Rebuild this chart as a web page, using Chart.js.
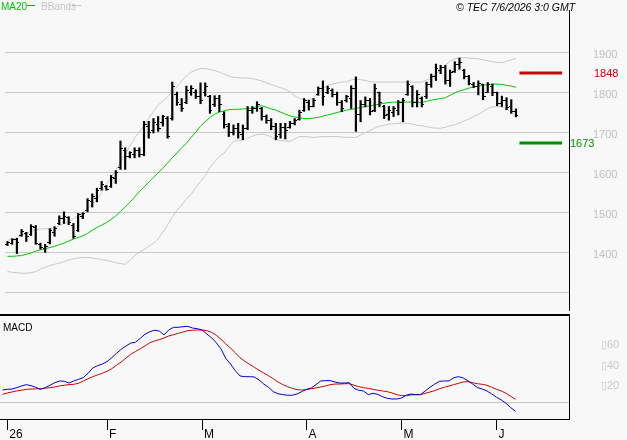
<!DOCTYPE html>
<html>
<head>
<meta charset="utf-8">
<script src="https://cdn.jsdelivr.net/npm/chart.js@4.4.1/dist/chart.umd.min.js"></script>
<style>
  body { margin: 0; background: #f8f8f8; width: 627px; height: 440px; overflow: hidden; position: relative;
         font-family: "Liberation Sans", Arial, sans-serif; }
  canvas { position: absolute; left: 0; }
  #price { top: 0; }
  #macd { top: 313px; }
  .txt { position: absolute; font-size: 10px; line-height: 10px; white-space: nowrap; }
  .key { position: absolute; height: 1px; }
</style>
</head>
<body>
<canvas id="price" width="627" height="315"></canvas>
<canvas id="macd" width="627" height="127"></canvas>

<div class="txt" style="left:1px;top:2px;color:#00c000">MA20</div>
<div class="key" style="left:27px;top:5px;width:8px;background:#00c000"></div>
<div class="txt" style="left:41px;top:2px;color:#c4c4c4">BBands</div>
<div class="key" style="left:72px;top:5px;width:9px;background:#c4c4c4"></div>
<div class="txt" style="left:456px;top:2px;color:#000;font-style:italic;font-size:10.5px">© TEC 7/6/2026 3:0 GMT</div>
<div class="txt" style="left:3px;top:323px;color:#000">MACD</div>

<script>
// daily bars, 31 Dec 2025 .. 5 Jun 2026
var opens = [
  1420,1423,1432,1442,1447,1445,1463,1420,1410,1425,
  1450,1472,1485,1487,1468,1455,1490,1505,1528,1535,
  1560,1565,1565,1585,1612,1655,1640,1645,1655,1645,
  1715,1705,1720,1725,1735,1735,1795,1770,1775,1800,
  1800,1790,1800,1790,1770,1785,1745,1715,1700,1710,
  1695,1710,1755,1760,1760,1740,1730,1715,1695,1712,
  1712,1722,1732,1755,1775,1765,1795,1810,1800,1805,
  1795,1775,1780,1785,1810,1745,1770,1778,1755,1800,
  1765,1745,1750,1755,1775,1795,1815,1775,1785,1790,
  1818,1840,1855,1862,1830,1852,1870,1855,1838,1820,
  1815,1818,1800,1815,1798,1772,1778,1765,1752
];
var highs = [
  1427,1434,1435,1457,1450,1469,1467,1423,1420,1459,
  1464,1491,1501,1489,1472,1497,1499,1534,1546,1560,
  1577,1567,1592,1604,1678,1661,1651,1661,1661,1727,
  1727,1734,1739,1742,1739,1825,1800,1784,1815,1816,
  1806,1823,1823,1792,1791,1792,1751,1722,1718,1722,
  1718,1764,1764,1776,1762,1743,1734,1722,1722,1722,
  1727,1734,1755,1784,1780,1784,1813,1828,1815,1808,
  1800,1779,1792,1816,1838,1779,1788,1784,1820,1800,
  1767,1764,1764,1779,1784,1828,1816,1804,1788,1825,
  1845,1870,1867,1867,1855,1876,1885,1857,1842,1824,
  1828,1820,1824,1820,1800,1790,1786,1781,1758
];
var lows = [
  1417,1420,1397,1440,1427,1442,1420,1408,1400,1421,
  1440,1469,1472,1469,1435,1452,1484,1501,1513,1526,
  1555,1555,1562,1572,1607,1607,1636,1636,1638,1641,
  1685,1698,1702,1715,1685,1730,1767,1752,1771,1792,
  1784,1771,1790,1747,1764,1751,1710,1689,1693,1685,
  1681,1706,1747,1752,1730,1722,1706,1681,1685,1683,
  1710,1718,1730,1752,1755,1763,1792,1767,1796,1788,
  1767,1751,1775,1759,1702,1726,1763,1743,1751,1763,
  1734,1730,1739,1743,1726,1792,1763,1763,1763,1784,
  1812,1829,1846,1820,1814,1849,1857,1833,1818,1811,
  1793,1781,1799,1791,1766,1764,1756,1747,1738
];
var closes = [
  1424,1431,1425,1452,1440,1465,1423,1412,1414,1455,
  1460,1485,1490,1475,1440,1494,1496,1530,1540,1555,
  1570,1558,1588,1600,1660,1640,1648,1655,1645,1720,
  1700,1725,1710,1740,1690,1815,1775,1760,1805,1810,
  1790,1780,1815,1755,1785,1770,1718,1700,1710,1700,
  1708,1755,1760,1770,1740,1730,1715,1690,1712,1705,
  1722,1730,1750,1778,1765,1778,1808,1790,1810,1795,
  1775,1760,1788,1810,1745,1770,1780,1752,1810,1775,
  1742,1755,1758,1775,1780,1820,1775,1795,1770,1820,
  1840,1860,1862,1830,1850,1870,1875,1840,1822,1815,
  1822,1790,1818,1800,1772,1780,1762,1752,1742
];
var ma20 = [
  1390,1390,1391,1392,1395,1398,1403,1406,1409,1412,
  1415,1419,1423,1428,1433,1437,1441,1447,1455,1462,
  1468,1474,1482,1491,1502,1513,1525,1538,1551,1563,
  1575,1587,1598,1610,1623,1636,1648,1661,1672,1687,
  1700,1715,1726,1737,1745,1750,1753,1756,1757,1757,
  1758,1759,1760,1764,1766,1762,1758,1755,1750,1745,
  1741,1738,1736,1734,1734,1735,1737,1740,1743,1746,
  1749,1752,1755,1757,1759,1762,1764,1766,1768,1770,
  1772,1774,1775,1775,1775,1775,1775,1775,1774,1777,
  1780,1782,1784,1786,1792,1798,1803,1806,1810,1813,
  1815,1817,1819,1820,1820,1819,1817,1815,1812
];
var bbUpper = [
  1430,1433,1437,1442,1447,1452,1457,1458,1459,1459,
  1460,1467,1472,1476,1484,1491,1500,1508,1521,1530,
  1550,1570,1587,1605,1625,1645,1665,1685,1700,1717,
  1735,1752,1768,1777,1788,1801,1813,1828,1841,1850,
  1855,1859,1859,1856,1854,1850,1845,1840,1837,1836,
  1835,1835,1834,1831,1828,1823,1819,1815,1811,1807,
  1801,1791,1784,1781,1779,1786,1796,1808,1818,1820,
  1823,1825,1826,1830,1833,1831,1829,1826,1825,1825,
  1825,1825,1825,1825,1825,1825,1825,1825,1825,1830,
  1836,1845,1857,1867,1877,1883,1886,1886,1885,1884,
  1883,1881,1878,1876,1874,1874,1877,1881,1884
];
var bbLower = [
  1352,1350,1349,1348,1348,1349,1352,1358,1363,1367,
  1370,1373,1377,1381,1384,1386,1387,1387,1386,1384,
  1382,1380,1377,1374,1372,1370,1380,1392,1400,1407,
  1415,1422,1434,1450,1468,1488,1505,1518,1533,1545,
  1562,1577,1592,1612,1626,1639,1648,1663,1677,1679,
  1681,1685,1690,1694,1695,1693,1688,1681,1679,1678,
  1677,1683,1689,1689,1688,1687,1688,1689,1689,1689,
  1689,1688,1687,1687,1687,1693,1699,1704,1710,1715,
  1717,1720,1721,1722,1723,1722,1720,1717,1716,1714,
  1711,1710,1710,1712,1716,1718,1723,1728,1733,1739,
  1744,1752,1759,1763,1764,1763,1758,1749,1739
];
var macdLine = [
  12.1,12.7,13.0,14.3,16.0,17.3,16.3,14.7,12.7,14.3,
  16.7,19.2,20.9,20.6,18.9,20.9,22.5,24.1,28.4,33.6,
  35.9,37.5,39.8,43.7,48.0,52.0,55.2,58.1,58.8,62.7,
  66.7,69.2,70.6,69.9,66.0,70.9,73.5,73.5,74.1,74.5,
  72.8,72.2,70.9,67.0,63.3,58.4,52.3,43.1,37.5,31.0,
  25.8,25.1,25.1,24.8,21.9,17.9,14.7,10.4,8.4,7.5,
  6.9,6.9,8.1,10.4,12.7,14.0,17.3,20.9,21.2,21.2,
  19.9,18.9,18.9,19.2,13.7,11.8,11.1,7.5,8.8,7.8,
  5.5,3.9,3.2,3.2,4.2,6.9,8.1,7.5,7.5,11.1,
  14.7,17.9,20.6,20.9,20.9,24.1,25.1,23.8,20.9,17.9,
  14.3,13.0,11.1,8.1,4.9,2.3,-1.0,-5.3,-8.8
];
var signalLine = [
  7.8,9.1,10.1,11.1,11.8,12.7,13.0,13.2,13.3,13.8,
  14.3,15.0,16.0,16.7,17.3,17.6,18.6,20.9,23.1,25.1,
  26.8,28.4,30.4,32.9,36.3,39.5,43.4,47.1,49.8,52.5,
  55.2,58.4,60.1,61.4,63.0,65.0,66.3,67.6,68.9,70.2,
  70.6,70.9,70.9,70.2,68.6,65.7,61.8,57.2,53.2,48.6,
  43.7,40.2,37.3,34.3,31.4,28.7,26.1,23.1,19.9,17.3,
  15.3,13.7,12.4,12.1,12.4,13.3,14.0,15.0,16.0,17.3,
  17.9,17.9,18.2,18.2,16.7,15.3,14.3,13.7,12.7,11.8,
  11.1,10.4,9.1,7.5,6.5,6.5,7.2,7.5,7.5,8.8,
  10.1,11.4,13.3,14.7,16.0,17.3,18.6,19.9,20.2,19.2,
  18.2,17.6,16.7,14.7,12.7,11.1,8.8,5.9,2.9
];

// first bar of each month, and the labels under the MACD panel
var monthStarts = [1, 22, 42, 64, 84, 104];
var monthLabels = ['26', 'F', 'M', 'A', 'M', 'J'];

var priceGrid = [1300, 1400, 1500, 1600, 1700, 1800, 1900];
var macdGrid = [0, 20, 40, 60];

var resistance = 1848;
var support = 1673;

Chart.defaults.font.family = "'Liberation Sans', Arial, sans-serif";

var X_MIN = -0.526, X_MAX = 119.26;

function xy(arr) {
  return arr.map(function (v, i) { return { x: i, y: v }; });
}

// keep the axis boxes fixed, labels sit outside the plot
function fixWidth(s) {
  s.width = 58;
  s.paddingTop = 0; s.paddingBottom = 0;
}
function fixHeight(s) {
  s.height = 21;
  s.paddingLeft = 0; s.paddingRight = 0;
}

// small images used as point styles for the open / close ticks
function tickImage(left) {
  var c = document.createElement('canvas');
  c.width = 5; c.height = 1;
  var g = c.getContext('2d');
  g.fillStyle = '#000';
  g.fillRect(left ? 0 : 3, 0, 2, 1);
  return c;
}
var openTick = tickImage(true);
var closeTick = tickImage(false);

var levelLabels = {
  id: 'levelLabels',
  afterDatasetsDraw: function (chart) {
    var ctx = chart.ctx, y = chart.scales.y, right = chart.chartArea.right;
    ctx.save();
    ctx.font = "11px 'Liberation Sans', Arial, sans-serif";
    ctx.textBaseline = 'middle';
    ctx.fillStyle = '#cc0000';
    ctx.fillText(String(resistance), right + 25, y.getPixelForValue(resistance) + 1);
    ctx.fillStyle = '#009000';
    ctx.fillText(String(support), right + 1, y.getPixelForValue(support) + 1);
    ctx.restore();
  }
};

var topRule = {
  id: 'topRule',
  afterDraw: function (chart) {
    var ctx = chart.ctx, a = chart.chartArea;
    ctx.save();
    ctx.fillStyle = '#000';
    ctx.fillRect(0, a.top - 2, a.right + 1, 2);
    ctx.restore();
  }
};

var flat = function (v) { return [{ x: 108.74, y: v }, { x: 117.8, y: v }]; };

new Chart(document.getElementById('price'), {
  type: 'line',
  data: {
    datasets: [
      {
        type: 'bar',
        data: highs.map(function (h, i) { return { x: i, y: [lows[i], h] }; }),
        backgroundColor: '#000',
        barThickness: 1.5,
        order: 0
      },
      { data: xy(opens), showLine: false, pointStyle: openTick, pointRadius: 1, order: 0 },
      { data: xy(closes), showLine: false, pointStyle: closeTick, pointRadius: 1, order: 0 },
      { data: xy(ma20), borderColor: '#00c800', borderWidth: 1, pointRadius: 0, order: 1 },
      { data: xy(bbUpper), borderColor: '#c8c8c8', borderWidth: 1, pointRadius: 0, order: 2 },
      { data: xy(bbLower), borderColor: '#c8c8c8', borderWidth: 1, pointRadius: 0, order: 2 },
      { data: flat(resistance), borderColor: '#cc0000', borderWidth: 3, pointRadius: 0, order: 1 },
      { data: flat(support), borderColor: '#009000', borderWidth: 3, pointRadius: 0, order: 1 }
    ]
  },
  options: {
    responsive: false,
    animation: false,
    events: [],
    layout: { padding: { top: 10, left: 0, right: 0, bottom: 0 } },
    plugins: { legend: { display: false }, tooltip: { enabled: false } },
    scales: {
      x: { type: 'linear', min: X_MIN, max: X_MAX, display: false, offset: false },
      y: {
        position: 'right',
        min: 1256, max: 2005,
        afterFit: fixWidth,
        afterBuildTicks: function (s) { s.ticks = priceGrid.map(function (v) { return { value: v }; }); },
        grid: { color: '#c8c8c8', drawTicks: false },
        border: { display: true, color: '#000', width: 1 },
        ticks: {
          padding: 24,
          labelOffset: 3,
          color: '#c0c0c0',
          font: { size: 11 },
          callback: function (v) { return v === 1300 ? '' : String(v); }
        }
      }
    }
  },
  plugins: [levelLabels]
});

new Chart(document.getElementById('macd'), {
  type: 'line',
  data: {
    datasets: [
      { data: xy(macdLine), borderColor: '#0000cc', borderWidth: 1, pointRadius: 0 },
      { data: xy(signalLine), borderColor: '#cc0000', borderWidth: 1, pointRadius: 0 }
    ]
  },
  options: {
    responsive: false,
    animation: false,
    events: [],
    layout: { padding: { top: 3, left: 0, right: 0, bottom: 0 } },
    plugins: { legend: { display: false }, tooltip: { enabled: false } },
    scales: {
      x: {
        type: 'linear', min: X_MIN, max: X_MAX,
        afterFit: fixHeight,
        afterBuildTicks: function (s) { s.ticks = monthStarts.map(function (v) { return { value: v }; }); },
        grid: { drawOnChartArea: false, drawTicks: true, tickLength: 11, color: '#000' },
        border: { display: true, color: '#000', width: 1 },
        ticks: {
          align: 'start',
          labelOffset: 2,
          padding: -3,
          maxRotation: 0,
          color: '#000',
          font: { size: 12 },
          callback: function (v) { return monthLabels[monthStarts.indexOf(v)]; }
        }
      },
      y: {
        position: 'right',
        min: -16.4, max: 84.6,
        afterFit: fixWidth,
        afterBuildTicks: function (s) { s.ticks = macdGrid.map(function (v) { return { value: v }; }); },
        grid: {
          drawTicks: false,
          color: function (c) { return c.tick && c.tick.value === 0 ? '#c8c8c8' : 'rgba(0,0,0,0)'; }
        },
        border: { display: true, color: '#000', width: 1 },
        ticks: {
          padding: 32,
          labelOffset: 4,
          color: '#c8c8c8',
          font: { size: 11 },
          callback: function (v) { return v === 0 ? '' : '\u25AF' + v; }
        }
      }
    }
  },
  plugins: [topRule]
});
</script>
</body>
</html>
